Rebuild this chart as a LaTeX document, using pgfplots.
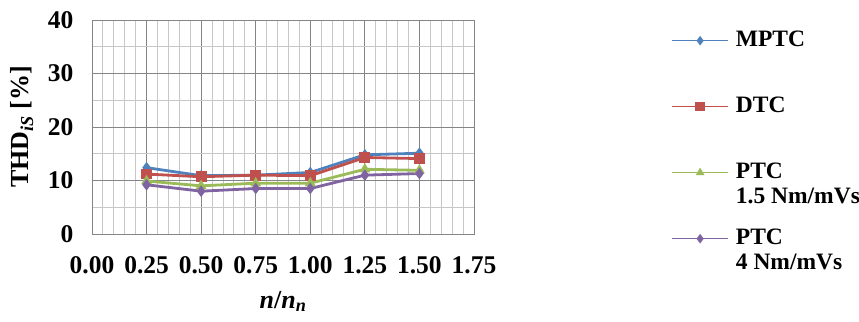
\documentclass[border=0pt]{standalone}
\usepackage{fontspec}
\setmainfont{Liberation Serif}
\usepackage{pgfplots}
\pgfplotsset{compat=1.18}
\definecolor{cblue}{HTML}{4F81BD}
\definecolor{cred}{HTML}{C0504D}
\definecolor{cgreen}{HTML}{9BBB59}
\definecolor{cpurple}{HTML}{8064A2}
\newcommand{\twoline}[2]{\smash{\begin{tabular}[t]{@{}l@{}}#1\\[-1bp]#2\end{tabular}}}
\begin{document}
\begin{tikzpicture}
\useasboundingbox (-92bp,-88bp) rectangle (767bp,234bp);
\begin{axis}[
  at={(0,0)}, anchor=south west,
  scale only axis, width=382bp, height=214bp,
  xmin=0, xmax=1.75, ymin=0, ymax=40,
  xtick={0,0.25,0.5,0.75,1,1.25,1.5,1.75},
  ytick={0,10,20,30,40},
  minor x tick num=4, minor y tick num=1,
  grid=both,
  major grid style={draw=black!48, line width=0.9bp},
  minor grid style={draw=black!22, line width=0.9bp},
  axis line style={draw=black!48, line width=0.9bp},
  tick style={draw=none},
  /pgf/number format/assume math mode=true,
  tick label style={font=\fontsize{25.5bp}{29bp}\selectfont\bfseries},
  xticklabel={\pgfmathprintnumber[fixed,fixed zerofill,precision=2]{\tick}},
  yticklabel={\pgfmathprintnumber[fixed,precision=0]{\tick}},
  xticklabel style={anchor=north, yshift=-19bp},
  yticklabel style={anchor=east, xshift=-15bp},
  label style={font=\fontsize{26bp}{30bp}\selectfont\bfseries},
  xlabel={\textit{n}/\textit{n}\textsubscript{\textit{n}}},
  xlabel style={at={(axis description cs:0.5,-0.346)}, anchor=base},
  ylabel={THD\textsubscript{\textit{iS}} [\%]},
  ylabel style={at={(axis description cs:-0.183,0.5)}, anchor=center},
  legend style={
    at={(axis description cs:1.516,0.958)}, anchor=north west,
    draw=none, fill=none, inner sep=0pt,
    row sep=43bp,
    font=\fontsize{23.5bp}{26bp}\selectfont\bfseries,
    nodes={text height=17bp, text depth=6bp, inner xsep=7bp, inner ysep=0pt},
  },
  legend cell align=left,
  legend image code/.code={\draw[mark repeat=2,mark phase=2,line width=1.6bp] plot coordinates {(0bp,0bp) (28bp,0bp) (56bp,0bp)};},
]
\addplot[cblue, line width=2.8bp, mark=diamond*, mark size=3.5bp] coordinates {
 (0.25,12.4) (0.5,10.9) (0.75,11.0) (1.0,11.5) (1.25,14.8) (1.5,15.1)};
\addlegendentry{MPTC}
\addplot[cred, line width=2.8bp, mark=square*, mark size=4bp] coordinates {
 (0.25,11.2) (0.5,10.7) (0.75,11.0) (1.0,10.9) (1.25,14.3) (1.5,14.1)};
\addlegendentry{DTC}
\addplot[cgreen, line width=2.8bp, mark=triangle*, mark size=3.5bp] coordinates {
 (0.25,9.9) (0.5,9.0) (0.75,9.5) (1.0,9.5) (1.25,12.1) (1.5,11.9)};
\addlegendentry{\twoline{PTC}{1.5 Nm/mVs}}
\addplot[cpurple, line width=2.8bp, mark=diamond*, mark size=3.5bp] coordinates {
 (0.25,9.2) (0.5,8.0) (0.75,8.5) (1.0,8.5) (1.25,11.0) (1.5,11.3)};
\addlegendentry{\twoline{PTC}{4 Nm/mVs}}
\end{axis}
\end{tikzpicture}
\end{document}
